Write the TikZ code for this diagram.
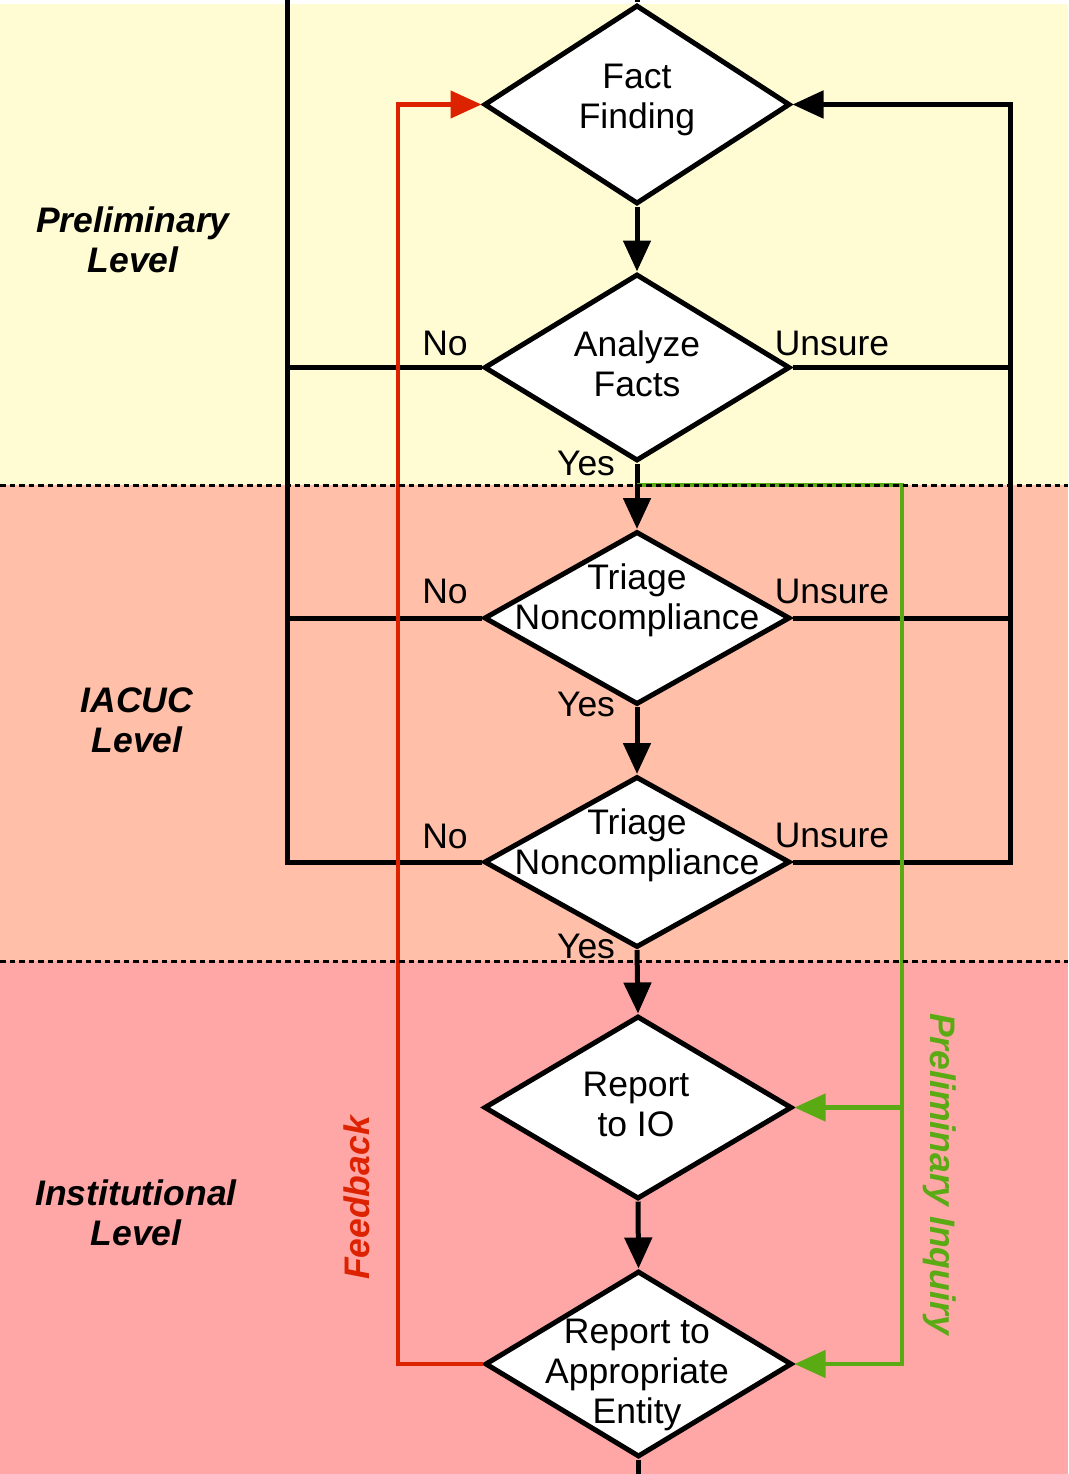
\documentclass[tikz,border=0pt]{standalone}
\usepackage{fontspec}
\setmainfont{Liberation Sans}
\usetikzlibrary{shapes.geometric,arrows.meta}
\definecolor{bgyellow}{HTML}{FFFCD4}
\definecolor{bgsalmon}{HTML}{FFBFA9}
\definecolor{bgpink}{HTML}{FFA7A7}
\definecolor{fbred}{HTML}{DD2200}
\definecolor{pigreen}{HTML}{5AAA14}
\begin{document}
\begin{tikzpicture}[x=1pt,y=-1pt,
  dia/.style={diamond,draw=black,fill=white,line width=5pt,inner sep=0pt,minimum width=306pt},
  txt/.style={font=\fontsize{35.5}{40}\selectfont,align=center,inner sep=0pt},
  lvl/.style={font=\fontsize{35.5}{40}\selectfont\bfseries\itshape,align=center,inner sep=0pt},
  lbl/.style={font=\fontsize{35.5}{40}\selectfont,inner sep=0pt,anchor=base},
  blk/.style={line width=5pt,draw=black},
  arr/.style={-{Triangle[length=31pt,width=27pt]}},
  redline/.style={line width=4.5pt,draw=fbred},
  greenline/.style={line width=4.5pt,draw=pigreen},
  dsh/.style={line width=3pt,draw=black,dash pattern=on 5.5pt off 4pt},
]
\useasboundingbox (0,0) rectangle (1068,1474);
% backgrounds
\fill[white] (0,0) rectangle (1068,4);
\fill[bgyellow] (0,4) rectangle (1068,485);
\fill[bgsalmon] (0,485) rectangle (1068,961);
\fill[bgpink] (0,961) rectangle (1068,1474);

% diamonds
\node[dia,minimum height=199pt] (ff) at (637,104.5) {};
\node[dia,minimum height=187pt] (af) at (637,367.5) {};
\node[dia,minimum height=173pt] (t1) at (637,618) {};
\node[dia,minimum height=171pt] (t2) at (637,862) {};
\node[dia,minimum height=183pt,minimum width=308pt] (r1) at (638,1107.5) {};
\node[dia,minimum height=186pt,minimum width=307pt] (r2) at (638.5,1364) {};

% helper coordinates
\coordinate (topend) at (637,0);
\coordinate (botend) at (638.5,1474);
\coordinate (ltop) at (287,0);
\coordinate (rx) at (1010,0);
\coordinate (redx) at (398,0);
\coordinate (gs) at (637,485);
\coordinate (gx) at (902,485);

% black connectors
\draw[blk] (ff.north) -- (topend);
\draw[blk] (r2.south) -- (botend);
\draw[blk,arr] (ff.south) -- (af.north);
\draw[blk,arr] (af.south) -- (t1.north);
\draw[blk,arr] (t1.south) -- (t2.north);
\draw[blk,arr] (t2.south) -- (r1.north);
\draw[blk,arr] (r1.south) -- (r2.north);
% left (No) loop
\draw[blk] (ltop) -- (ltop |- t2.west) -- (t2.west);
\draw[blk] (af.west) -- (af.west -| ltop);
\draw[blk] (t1.west) -- (t1.west -| ltop);
% right (Unsure) loop
\draw[blk,arr] (t2.east) -- (t2.east -| rx) -- (ff.east -| rx) -- (ff.east);
\draw[blk] (af.east) -- (af.east -| rx);
\draw[blk] (t1.east) -- (t1.east -| rx);

% feedback (red)
\draw[redline,arr] (r2.west) -- (r2.west -| redx) -- (ff.west -| redx) -- (ff.west);
% preliminary inquiry (green)
\draw[greenline,arr] (gs) -- (gx) -- (gx |- r2.east) -- (r2.east);
\draw[greenline,arr] (gx |- r1.east) -- (r1.east);

% dashed separators
\draw[dsh] (0,485) -- (1068,485);
\draw[dsh] (0,961) -- (1068,961);

% diamond texts
\node[txt] (ffT) at (637,99.5) {Fact\\Finding};
\node[txt] (afT) at (637,364) {Analyze\\Facts};
\node[txt] (t1T) at (637,600) {Triage\\Noncompliance};
\node[txt] (t2T) at (637,845) {Triage\\Noncompliance};
\node[txt] (r1T) at (636,1104.5) {Report\\to IO};
\node[txt] (r2T) at (637,1375) {Report to\\Appropriate\\Entity};

% branch labels
\node[lbl] (afNo) at (445,355) {No};
\node[lbl] (afUn) at (832,355) {Unsure};
\node[lbl] (afYes) at (586,475) {Yes};
\node[lbl] (t1No) at (445,603) {No};
\node[lbl] (t1Un) at (832,603) {Unsure};
\node[lbl] (t1Yes) at (586,716) {Yes};
\node[lbl] (t2No) at (445,848) {No};
\node[lbl] (t2Un) at (832,847) {Unsure};
\node[lbl] (t2Yes) at (586,958) {Yes};

% level labels
\node[lvl] (lvl1) at (133,240) {Preliminary\\Level};
\node[lvl] (lvl2) at (137,720) {IACUC\\Level};
\node[lvl] (lvl3) at (136,1213) {Institutional\\Level};

% rotated labels
\node[lvl,text=fbred,rotate=90] (fbT) at (357,1198) {Feedback};
\node[lvl,text=pigreen,rotate=-90] (piT) at (940,1174) {Preliminary Inquiry};
\end{tikzpicture}
\end{document}
